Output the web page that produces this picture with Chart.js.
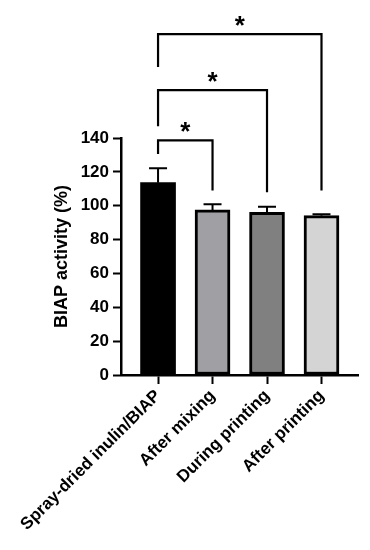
<!DOCTYPE html>
<html>
<head>
<meta charset="utf-8">
<script src="https://cdn.jsdelivr.net/npm/chart.js@4"></script>
<style>
  body { margin: 0; background: #fff; }
</style>
</head>
<body>
<canvas id="chart" width="370" height="550"></canvas>
<script>
// data
const groups = ['Spray-dried inulin/BIAP', 'After mixing', 'During printing', 'After printing'];
const activity = [113.6, 97.5, 96.1, 94.1];
const activitySD = [8.5, 3.3, 3.3, 0.8];
const barColors = ['#000000', '#a0a0a4', '#808080', '#d4d4d4'];
const yTicks = [0, 20, 40, 60, 80, 100, 120, 140];

// significance brackets: [from, to] group index, heights in y units
const sigPairs = [[0, 1], [0, 2], [0, 3]];
const sigLevel = [138.6, 168.3, 201.4];
const sigLeftEnd = [130.5, 147, 182];
const sigRightEnd = [109, 108, 109];
const sigStarY = [147.7, 177.2, 210.3];
const sigText = ['*', '*', '*'];

const FONT = "'Liberation Sans', Arial, sans-serif";

// error bars (upper whisker only)
const errorBars = {
  id: 'errorBars',
  afterDatasetsDraw(chart) {
    const c = chart.ctx, y = chart.scales.y;
    const meta = chart.getDatasetMeta(0);
    c.save();
    c.strokeStyle = '#000';
    c.lineWidth = 2;
    meta.data.forEach((bar, i) => {
      const y0 = y.getPixelForValue(activity[i]);
      const y1 = y.getPixelForValue(activity[i] + activitySD[i]);
      c.beginPath();
      c.moveTo(bar.x, y0);
      c.lineTo(bar.x, y1);
      c.moveTo(bar.x - 9, y1);
      c.lineTo(bar.x + 9, y1);
      c.stroke();
    });
    c.restore();
  }
};

// significance brackets + stars
const brackets = {
  id: 'brackets',
  afterDraw(chart) {
    const c = chart.ctx, x = chart.scales.x, y = chart.scales.y;
    c.save();
    c.strokeStyle = '#000';
    c.lineWidth = 2.2;
    c.fillStyle = '#000';
    c.font = 'bold 26px ' + FONT;
    c.textAlign = 'center';
    c.textBaseline = 'alphabetic';
    sigPairs.forEach((p, i) => {
      const xl = x.getPixelForValue(p[0]);
      const xr = x.getPixelForValue(p[1]);
      const yl = y.getPixelForValue(sigLevel[i]);
      c.beginPath();
      c.moveTo(xl, y.getPixelForValue(sigLeftEnd[i]));
      c.lineTo(xl, yl);
      c.lineTo(xr, yl);
      c.lineTo(xr, y.getPixelForValue(sigRightEnd[i]));
      c.stroke();
      c.fillText(sigText[i], (xl + xr) / 2, y.getPixelForValue(sigStarY[i]) + 15);
    });
    c.restore();
  }
};

const ctx = document.getElementById('chart').getContext('2d');
const myChart = new Chart(ctx, {
  type: 'bar',
  data: {
    datasets: [{
      data: activity.map((v, i) => ({ x: i, y: v })),
      backgroundColor: barColors,
      borderColor: '#000',
      borderWidth: [0, 3, 3, 3],
      borderSkipped: false,
      barThickness: 35
    }]
  },
  options: {
    responsive: false,
    animation: false,
    layout: { padding: { top: 138, right: 12, left: 0, bottom: 0 } },
    plugins: { legend: { display: false }, tooltip: { enabled: false } },
    scales: {
      x: {
        type: 'linear',
        offset: false,
        min: -0.68,
        max: 3.67,
        afterBuildTicks: s => { s.ticks = groups.map((g, i) => ({ value: i })); },
        afterFit: s => { s.height = 175; },
        grid: { offset: false, drawOnChartArea: false, tickLength: 9, tickWidth: 2, tickColor: '#000' },
        border: { color: '#000', width: 2.5 },
        ticks: {
          minRotation: 45,
          maxRotation: 45,
          padding: 2,
          color: '#000',
          font: { family: FONT, size: 17, weight: 'bold' },
          callback: v => groups[v]
        }
      },
      y: {
        min: 0,
        max: 140,
        afterBuildTicks: s => { s.ticks = yTicks.map(v => ({ value: v })); },
        afterFit: s => { s.width = 121; },
        grid: { drawOnChartArea: false, tickLength: 8, tickWidth: 2, tickColor: '#000' },
        border: { color: '#000', width: 2.5 },
        ticks: {
          padding: 4,
          color: '#000',
          font: { family: FONT, size: 17, weight: 'bold' }
        },
        title: {
          display: true,
          text: 'BIAP activity (%)',
          color: '#000',
          padding: { top: 51, bottom: 0 },
          font: { family: FONT, size: 18, weight: 'bold' }
        }
      }
    }
  },
  plugins: [errorBars, brackets]
});
</script>
</body>
</html>
